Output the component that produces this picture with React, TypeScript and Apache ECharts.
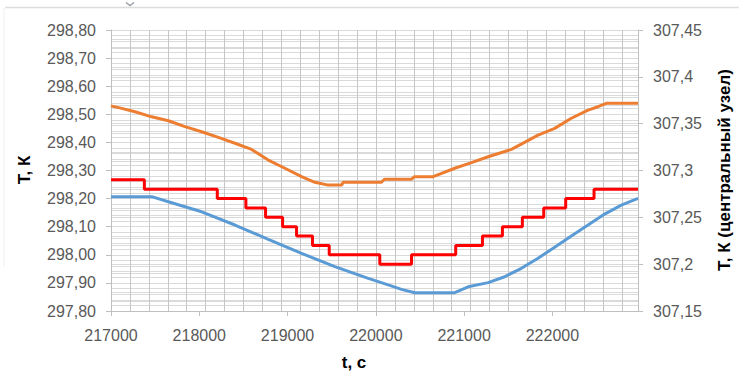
import React, { useEffect, useRef } from "react";
import * as echarts from "echarts";

// x-axis (time, s)
const xMin = 217000;
const xMax = 222970;
const xInterval = 1000;

// left axis (T, K)
const leftMin = 297.8;
const leftMax = 298.8;
const leftInterval = 0.1;

// right axis (T, K центральный узел)
const rightMin = 307.15;
const rightMax = 307.45;
const rightInterval = 0.05;

// blue series (left axis)
const blueTimes = [217000, 217461, 217650, 218027, 218404, 218782, 219159, 219536, 219914, 220140, 220291, 220441, 220894, 221046, 221272, 221460, 221649, 221838, 222026, 222215, 222404, 222592, 222781, 222970];
const blueValues = [298.207, 298.207, 298.189, 298.153, 298.106, 298.055, 298.005, 297.958, 297.916, 297.893, 297.877, 297.865, 297.865, 297.886, 297.901, 297.922, 297.952, 297.988, 298.027, 298.067, 298.106, 298.145, 298.177, 298.201];

// orange series (left axis)
const orangeTimes = [217000, 217121, 217272, 217461, 217650, 217838, 218027, 218216, 218404, 218593, 218782, 218970, 219159, 219309, 219461, 219612, 219631, 220064, 220098, 220404, 220438, 220650, 220894, 221083, 221272, 221536, 221838, 222026, 222215, 222404, 222517, 222611, 222970];
const orangeValues = [298.53, 298.521, 298.509, 298.491, 298.477, 298.456, 298.438, 298.418, 298.397, 298.375, 298.337, 298.308, 298.278, 298.258, 298.248, 298.248, 298.258, 298.258, 298.269, 298.269, 298.278, 298.278, 298.308, 298.328, 298.349, 298.375, 298.426, 298.45, 298.486, 298.515, 298.527, 298.539, 298.539];

// red series (right axis, staircase)
const redTimes = [217000, 217378, 218204, 218528, 218751, 218944, 219102, 219283, 219472, 220045, 220404, 220905, 221208, 221434, 221660, 221902, 222151, 222472, 222970];
const redValues = [307.29, 307.28, 307.27, 307.26, 307.25, 307.24, 307.23, 307.22, 307.21, 307.2, 307.21, 307.22, 307.23, 307.24, 307.25, 307.26, 307.27, 307.28, 307.28];

// titles
const leftTitle = "Т, К";
const rightTitle = "Т, К (центральный узел)";
const bottomTitle = "t, c";

const zip = (xs: number[], ys: number[]) => xs.map((x, i) => [x, ys[i]]);

const FONT = '"Liberation Sans", Arial, sans-serif';

export default function App() {
  const ref = useRef<HTMLDivElement>(null);
  useEffect(() => {
    if (!ref.current) return;
    const chart = echarts.init(ref.current, undefined, { renderer: "svg" });
    const gridMajor = "#c6c6c6";
    const gridMinor = "#dadada";
    const axisColor = "#bfbfbf";
    const labelColor = "#595959";
    chart.setOption({
      animation: false,
      grid: { left: 111, right: 101, top: 30, bottom: 61 },
      xAxis: [
        {
          type: "value",
          min: xMin,
          max: xMax,
          interval: xInterval,
          axisLine: { show: true, lineStyle: { color: axisColor, width: 1 } },
          axisTick: { show: true, length: 5, lineStyle: { color: axisColor } },
          axisLabel: {
            color: labelColor,
            fontSize: 16,
            fontFamily: FONT,
            margin: 16,
            showMaxLabel: false,
            formatter: (v: number) => String(Math.round(v)),
          },
          splitLine: { show: false },
        },
        {
          type: "value",
          position: "top",
          min: 0,
          max: 27.84,
          interval: 1,
          axisLine: { show: false },
          axisTick: { show: false },
          axisLabel: { show: false },
          splitLine: { show: true, lineStyle: { color: gridMajor, width: 1 } },
        },
      ],
      yAxis: [
        {
          type: "value",
          min: leftMin,
          max: leftMax,
          interval: leftInterval,
          axisLine: { show: true, lineStyle: { color: axisColor } },
          axisTick: { show: true, length: 5, lineStyle: { color: axisColor } },
          axisLabel: {
            color: labelColor,
            fontSize: 16,
            fontFamily: FONT,
            margin: 15,
            formatter: (v: number) => v.toFixed(2).replace(".", ","),
          },
          splitLine: { show: true, lineStyle: { color: gridMajor } },
          minorTick: { show: false, splitNumber: 5 },
          minorSplitLine: { show: true, lineStyle: { color: gridMinor } },
        },
        {
          type: "value",
          min: rightMin,
          max: rightMax,
          interval: rightInterval,
          position: "right",
          axisLine: { show: true, lineStyle: { color: axisColor } },
          axisTick: { show: true, length: 5, lineStyle: { color: axisColor } },
          axisLabel: {
            color: labelColor,
            fontSize: 16,
            fontFamily: FONT,
            margin: 15,
            formatter: (v: number) => String(Number(v.toFixed(2))).replace(".", ","),
          },
          splitLine: { show: true, lineStyle: { color: gridMinor } },
          minorTick: { show: false, splitNumber: 5 },
          minorSplitLine: { show: true, lineStyle: { color: gridMinor } },
        },
      ],
      series: [
        {
          type: "line",
          xAxisIndex: 0,
          yAxisIndex: 0,
          data: zip(blueTimes, blueValues),
          showSymbol: false,
          symbol: "none",
          lineStyle: { color: "#5b9bd5", width: 3 },
          itemStyle: { color: "#5b9bd5" },
        },
        {
          type: "line",
          xAxisIndex: 0,
          yAxisIndex: 0,
          data: zip(orangeTimes, orangeValues),
          showSymbol: false,
          symbol: "none",
          lineStyle: { color: "#ed7d31", width: 3 },
          itemStyle: { color: "#ed7d31" },
        },
        {
          type: "line",
          xAxisIndex: 0,
          yAxisIndex: 1,
          step: "end",
          data: zip(redTimes, redValues),
          showSymbol: false,
          symbol: "none",
          lineStyle: { color: "#ff0000", width: 3 },
          itemStyle: { color: "#ff0000" },
        },
      ],
      graphic: [
        {
          type: "line",
          shape: { x1: 5, y1: 7.5, x2: 739, y2: 7.5 },
          style: { stroke: "#dcdcdc", lineWidth: 1.5 },
          silent: true,
        },
        {
          type: "line",
          shape: { x1: 4, y1: 8, x2: 4, y2: 267 },
          style: { stroke: "#f0f0f0", lineWidth: 1 },
          silent: true,
        },
        {
          type: "polyline",
          shape: { points: [[126, 2.5], [130, 5.5], [134, 2.5]] },
          style: { stroke: "#9aa0a6", lineWidth: 1.5, fill: "none" },
          silent: true,
        },
        {
          type: "text",
          x: 24,
          y: 170,
          rotation: Math.PI / 2,
          style: {
            text: leftTitle,
            font: `bold 17px ${FONT}`,
            fill: "#000",
            align: "center",
            verticalAlign: "middle",
          },
        },
        {
          type: "text",
          x: 724,
          y: 170,
          rotation: Math.PI / 2,
          style: {
            text: rightTitle,
            font: `bold 17px ${FONT}`,
            fill: "#000",
            align: "center",
            verticalAlign: "middle",
          },
        },
        {
          type: "text",
          x: 354,
          y: 362,
          style: {
            text: bottomTitle,
            font: `bold 17px ${FONT}`,
            fill: "#000",
            align: "center",
            verticalAlign: "middle",
          },
        },
      ],
    });
    return () => chart.dispose();
  }, []);
  return (
    <div
      ref={ref}
      style={{ position: "absolute", left: 0, top: 0, width: 739, height: 372, background: "#fff" }}
    />
  );
}
